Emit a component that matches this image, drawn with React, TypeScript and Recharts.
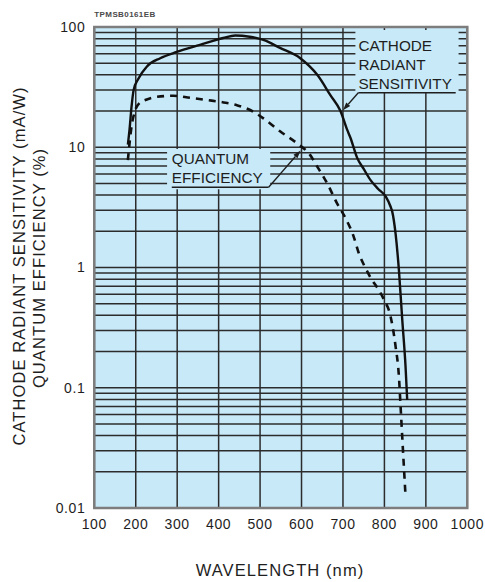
import React from 'react';
import { LineChart, Line, XAxis, YAxis, CartesianGrid, ReferenceArea, ReferenceLine } from 'recharts';

// ---- data ----
const WAVELENGTH_TICKS = [100, 200, 300, 400, 500, 600, 700, 800, 900, 1000];
const Y_DECADES = [0.01, 0.1, 1, 10, 100];
const Y_DECADE_LABELS = ['0.01', '0.1', '1', '10', '100'];
const Y_GRID = [
  0.01, 0.02, 0.03, 0.04, 0.05, 0.06, 0.07, 0.08, 0.09,
  0.1, 0.2, 0.3, 0.4, 0.5, 0.6, 0.7, 0.8, 0.9,
  1, 2, 3, 4, 5, 6, 7, 8, 9,
  10, 20, 30, 40, 50, 60, 70, 80, 90,
  100,
];

const cathodeWavelength = [181, 185, 190, 195, 206, 227, 259, 299, 355, 411, 440, 475, 508, 548, 597, 638, 670, 694, 710, 718, 734, 750, 767, 785, 803, 815, 819, 827, 835, 843, 851, 855];
const cathodeSensitivity = [10.5, 14, 22, 30, 37, 47, 55, 62, 71, 81, 85, 83, 78, 67, 55, 40, 27, 20, 14, 12, 8.2, 6.6, 5.3, 4.5, 3.9, 3.2, 2.9, 1.9, 0.95, 0.37, 0.15, 0.079];

const qeWavelength = [181, 190, 198, 210, 223, 251, 291, 331, 372, 412, 444, 476, 508, 549, 589, 621, 638, 662, 686, 706, 726, 738, 755, 767, 785, 799, 815, 827, 835, 839, 843, 847, 851];
const qeValues = [7.8, 15, 20, 23.5, 24.7, 26.3, 26.8, 25.8, 24.7, 23.6, 22.4, 20.4, 17.4, 13.5, 10.8, 8.6, 6.9, 5.0, 3.4, 2.58, 1.8, 1.32, 0.98, 0.82, 0.66, 0.54, 0.39, 0.22, 0.124, 0.07, 0.039, 0.022, 0.0125];

const cathodeLabel = ['CATHODE', 'RADIANT', 'SENSITIVITY'];
const qeLabel = ['QUANTUM', 'EFFICIENCY'];

const cathodeData = cathodeWavelength.map((w, i) => ({ wl: w, v: cathodeSensitivity[i] }));
const qeData = qeWavelength.map((w, i) => ({ wl: w, v: qeValues[i] }));

// ---- styles ----
const FONT = '"Liberation Sans", Arial, Helvetica, sans-serif';
const BG = '#c7e9f8';
const GRID = '#2c2c2c';
const INK = '#1e1e1e';

const yFormatter = (v: number) => {
  const idx = Y_DECADES.findIndex((d) => Math.abs(d - v) < v * 1e-6);
  return idx >= 0 ? Y_DECADE_LABELS[idx] : '';
};

const ArrowLine = (props: any) => {
  const { x1, y1, x2, y2 } = props;
  const dx = x2 - x1;
  const dy = y2 - y1;
  const len = Math.sqrt(dx * dx + dy * dy) || 1;
  const ux = dx / len;
  const uy = dy / len;
  const L = 8;
  const W = 2.6;
  const bx = x2 - ux * L;
  const by = y2 - uy * L;
  const pts = `${x2},${y2} ${bx - uy * W},${by + ux * W} ${bx + uy * W},${by - ux * W}`;
  return (
    <g>
      <line x1={x1} y1={y1} x2={bx} y2={by} stroke={INK} strokeWidth={1.3} />
      <polygon points={pts} fill={INK} />
    </g>
  );
};

const makeBoxLabel = (lines: string[], dx: number, firstDy: number, step: number) => (props: any) => {
  const vb = props.viewBox || {};
  const x = vb.x ?? 0;
  const y = vb.y ?? 0;
  return (
    <g>
      {lines.map((t, i) => (
        <text key={t} x={x + dx} y={y + firstDy + i * step} fontFamily={FONT} fontSize={15.3} fill={INK}>
          {t}
        </text>
      ))}
    </g>
  );
};

export default function App() {
  return (
    <div style={{ position: 'fixed', left: 0, top: 0, width: 485, height: 582, background: '#fff' }}>
      <LineChart
        width={485}
        height={582}
        margin={{ top: 27, right: 17.7, bottom: 44, left: 34.3 }}
        style={{ position: 'absolute', left: 0, top: 0 }}
      >
        <CartesianGrid stroke={GRID} strokeWidth={1.5} fill={BG} fillOpacity={1} />
        <XAxis
          dataKey="wl"
          type="number"
          domain={[100, 1000]}
          ticks={WAVELENGTH_TICKS}
          interval={0}
          allowDataOverflow
          axisLine={false}
          tickLine={false}
          tickMargin={5}
          height={30}
          tick={{ fontSize: 14, fill: INK, fontFamily: FONT, letterSpacing: 0.6 }}
        />
        <YAxis
          dataKey="v"
          type="number"
          scale="log"
          domain={[0.01, 100]}
          ticks={Y_GRID}
          interval={0}
          allowDataOverflow
          axisLine={false}
          tickLine={false}
          tickMargin={3}
          width={60}
          tickFormatter={yFormatter}
          tick={{ fontSize: 14, fill: INK, fontFamily: FONT, letterSpacing: 0.6 }}
        />
        <ReferenceArea
          x1={730}
          x2={979}
          y1={28.3}
          y2={94.4}
          fill={BG}
          fillOpacity={1}
          stroke="none"
          label={makeBoxLabel(cathodeLabel, 3, 20.7, 19)}
        />
        <ReferenceArea
          x1={275.6}
          x2={524.5}
          y1={4.48}
          y2={9.67}
          fill={BG}
          fillOpacity={1}
          stroke="none"
          label={makeBoxLabel(qeLabel, 4.7, 15.3, 19)}
        />
        <Line
          data={qeData}
          dataKey="v"
          type="monotone"
          stroke="#111"
          strokeWidth={2.6}
          strokeDasharray="7 6"
          dot={false}
          isAnimationActive={false}
        />
        <Line
          data={cathodeData}
          dataKey="v"
          type="monotone"
          stroke="#111"
          strokeWidth={2.4}
          dot={false}
          isAnimationActive={false}
        />
        <ReferenceLine segment={[{ x: 737, y: 28.4 }, { x: 972, y: 28.4 }]} stroke={INK} strokeWidth={1.3} />
        <ReferenceLine segment={[{ x: 737, y: 28.4 }, { x: 700, y: 20.3 }]} shape={ArrowLine} />
        <ReferenceLine segment={[{ x: 287, y: 4.65 }, { x: 520.6, y: 4.65 }]} stroke={INK} strokeWidth={1.3} />
        <ReferenceLine segment={[{ x: 520.6, y: 4.65 }, { x: 598, y: 9.4 }]} shape={ArrowLine} />
        <ReferenceArea x1={100} x2={1000} y1={0.01} y2={100} fill="none" stroke="#7d7d7d" strokeWidth={2.5} />
      </LineChart>
      <svg
        width={485}
        height={582}
        style={{ position: 'absolute', left: 0, top: 0, pointerEvents: 'none' }}
      >
        <text x={94.3} y={17.3} fontFamily={FONT} fontSize={8} fontWeight="bold" letterSpacing={0.4} fill="#4a4a4a">
          TPMSB0161EB
        </text>
        <text
          x={25}
          y={266}
          transform="rotate(-90 25 266)"
          textAnchor="middle"
          fontFamily={FONT}
          fontSize={16.5}
          letterSpacing={1.1}
          fill={INK}
        >
          CATHODE RADIANT SENSITIVITY (mA/W)
        </text>
        <text
          x={45}
          y={268}
          transform="rotate(-90 45 268)"
          textAnchor="middle"
          fontFamily={FONT}
          fontSize={16.5}
          letterSpacing={1.1}
          fill={INK}
        >
          QUANTUM EFFICIENCY (%)
        </text>
        <text x={280} y={575.5} textAnchor="middle" fontFamily={FONT} fontSize={16.5} letterSpacing={1.1} fill={INK}>
          WAVELENGTH (nm)
        </text>
      </svg>
    </div>
  );
}
